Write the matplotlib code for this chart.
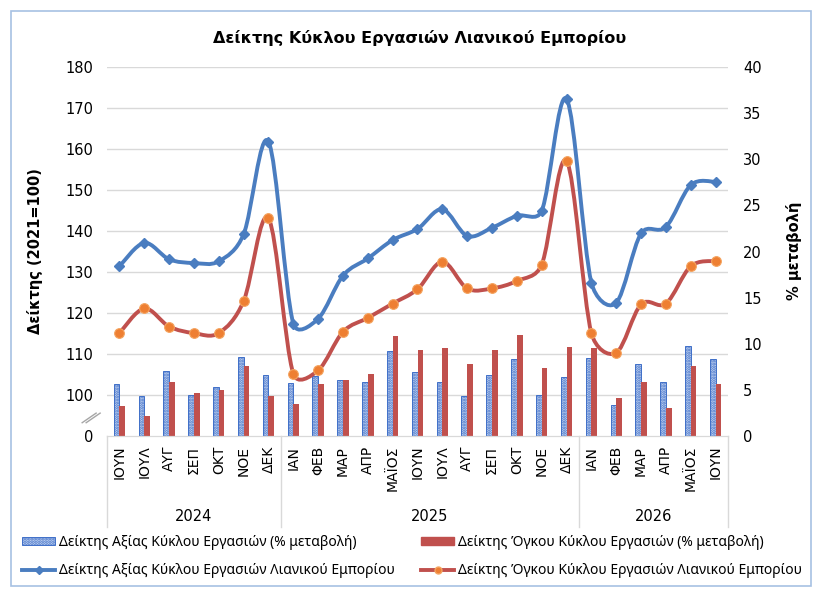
import numpy as np
import matplotlib.pyplot as plt
from matplotlib.path import Path
from matplotlib.patches import PathPatch, Rectangle, Patch
from matplotlib.lines import Line2D
import matplotlib.transforms as mtransforms

plt.rcParams['font.family'] = ['DejaVu Sans']
plt.rcParams['hatch.linewidth'] = 1.4

months = ['ΙΟΥΝ', 'ΙΟΥΛ', 'ΑΥΓ', 'ΣΕΠ', 'ΟΚΤ', 'ΝΟΕ', 'ΔΕΚ',
          'ΙΑΝ', 'ΦΕΒ', 'ΜΑΡ', 'ΑΠΡ', 'ΜΑΪΟΣ', 'ΙΟΥΝ', 'ΙΟΥΛ', 'ΑΥΓ', 'ΣΕΠ', 'ΟΚΤ', 'ΝΟΕ', 'ΔΕΚ',
          'ΙΑΝ', 'ΦΕΒ', 'ΜΑΡ', 'ΑΠΡ', 'ΜΑΪΟΣ', 'ΙΟΥΝ']
years = ['2024', '2025', '2026']
year_counts = [7, 12, 6]

# index values, left axis (2021=100)
value_index = [131.4, 137.1, 133.1, 132.2, 132.6, 139.2, 161.8, 117.4, 118.6, 129.1, 133.3, 137.8, 140.5,
               145.3, 138.8, 140.8, 143.7, 144.9, 172.2, 127.4, 122.5, 139.4, 141.0, 151.2, 152.0]
volume_index = [115.1, 121.1, 116.7, 115.1, 115.1, 122.9, 143.1, 105.2, 106.0, 115.4, 118.8, 122.3, 125.8,
                132.5, 126.0, 126.0, 127.8, 131.8, 157.1, 115.1, 110.3, 122.1, 122.3, 131.4, 132.7]
# % change, right axis
value_pct = [5.6, 4.3, 7.1, 4.4, 5.3, 8.6, 6.6, 5.7, 6.5, 6.1, 5.8, 9.2, 6.9,
             5.9, 4.3, 6.6, 8.3, 4.4, 6.4, 8.5, 3.4, 7.8, 5.9, 9.8, 8.3]
volume_pct = [3.3, 2.2, 5.8, 4.7, 5.0, 7.6, 4.3, 3.5, 5.6, 6.1, 6.7, 10.8, 9.3,
              9.5, 7.8, 9.3, 11.0, 7.4, 9.7, 9.5, 4.1, 5.8, 3.0, 7.6, 5.6]

left_ticks = [90, 100, 110, 120, 130, 140, 150, 160, 170, 180]
left_labels = ['0', '100', '110', '120', '130', '140', '150', '160', '170', '180']
right_ticks = [0, 5, 10, 15, 20, 25, 30, 35, 40]

BLUE = '#4A7DC0'
RED = '#C0504D'
ORANGE = '#EE7F32'
GRID = '#D9D9D9'
BAR_FACE = '#C9D8F2'
BAR_DOT = '#3F6FC8'


def smooth_path(xs, ys, sx, sy, k=0.5):
    # bezier through the points, tangents like catmull-rom but shortened on short segments
    pts = np.column_stack([np.asarray(xs, float) * sx, np.asarray(ys, float) * sy])
    n = len(pts)
    tan = []
    for i in range(n):
        a = pts[max(i - 1, 0)]
        b = pts[min(i + 1, n - 1)]
        tan.append((b - a) / 6.0)
    verts = [pts[0]]
    codes = [Path.MOVETO]
    for i in range(n - 1):
        seg = np.hypot(*(pts[i + 1] - pts[i]))
        t1, t2 = tan[i], tan[i + 1]
        f1 = min(1.0, k * seg / max(np.hypot(*t1), 1e-9))
        f2 = min(1.0, k * seg / max(np.hypot(*t2), 1e-9))
        verts += [pts[i] + t1 * f1, pts[i + 1] - t2 * f2, pts[i + 1]]
        codes += [Path.CURVE4] * 3
    verts = np.array(verts) / [sx, sy]
    return Path(verts, codes)


fig = plt.figure(figsize=(8.23, 6.05), dpi=100)
ax = fig.add_axes([107 / 823, 1 - 436 / 605, 621 / 823, 369 / 605])
ax2 = ax.twinx()

x = np.arange(len(months))

# bars on the % axis (drawn on right side)
ax.set_ylim(0, 40)
ax.set_xlim(-0.5, len(months) - 0.5)
for g in left_ticks[1:]:
    ax.axhline((g - 90) * 40 / 90, color=GRID, lw=1.0, zorder=0)
bw = 0.23
ax.bar(x - bw / 2, value_pct, bw, facecolor=BAR_FACE, edgecolor=BAR_DOT, hatch='......',
       linewidth=0.7, zorder=2)
ax.bar(x + bw / 2, volume_pct, bw, color=RED, linewidth=0, zorder=2)
ax.yaxis.tick_right()
ax.set_yticks(right_ticks)
ax.tick_params(axis='y', length=0, pad=11, labelsize=10.5)

# index lines (drawn on left side)
ax2.set_ylim(90, 180)
ax2.yaxis.tick_left()
ax2.set_yticks(left_ticks)
ax2.set_yticklabels(left_labels)
ax2.tick_params(axis='y', length=0, pad=10, labelsize=10.5)

px_x = 621 / len(months)
px_y = 369 / 90
ax2.add_patch(PathPatch(smooth_path(x, value_index, px_x, px_y), fill=False, edgecolor=BLUE, lw=2.8,
                        capstyle='round', joinstyle='round', zorder=3))
ax2.plot(x, value_index, linestyle='none', marker='D', ms=5, color=BLUE, zorder=4)
ax2.add_patch(PathPatch(smooth_path(x, volume_index, px_x, px_y), fill=False, edgecolor=RED, lw=2.8,
                        capstyle='round', joinstyle='round', zorder=3))
ax2.plot(x, volume_index, linestyle='none', marker='o', ms=7, markerfacecolor=ORANGE,
         markeredgecolor='#F4A460', markeredgewidth=0.8, zorder=4)

for a in (ax, ax2):
    for s in ('top', 'left', 'right'):
        a.spines[s].set_visible(False)
    a.spines['bottom'].set_color(GRID)

# category axis
ax.set_xticks(x)
ax.set_xticklabels(months, rotation=90, fontsize=10)
ax.tick_params(axis='x', length=0, pad=7)

trans = mtransforms.blended_transform_factory(ax.transData, ax.transAxes)
bounds = np.concatenate([[0], np.cumsum(year_counts)]) - 0.5
for b in bounds:
    ax.plot([b, b], [0, -0.247], transform=trans, color=GRID, lw=1.0, clip_on=False)
for i, yr in enumerate(years):
    ax.text((bounds[i] + bounds[i + 1]) / 2, -0.219, yr, transform=trans, ha='center', va='center',
            fontsize=10.5)

# axis break marks
for dx in (0, 4):
    ax.plot([-0.04 + dx / 621, -0.0175 + dx / 621], [0.036, 0.062], transform=ax.transAxes,
            color='#A6A6A6', lw=1.0, clip_on=False)

fig.text(420 / 823, 1 - 38 / 605, 'Δείκτης Κύκλου Εργασιών Λιανικού Εμπορίου', ha='center', va='center',
         fontsize=11.5, fontweight='bold')
fig.text(35 / 823, 1 - 251 / 605, 'Δείκτης (2021=100)', rotation=90, ha='center', va='center',
         fontsize=10.5, fontweight='bold')
fig.text(794 / 823, 1 - 251 / 605, '% μεταβολή', rotation=90, ha='center', va='center',
         fontsize=10.5, fontweight='bold')

handles = [
    Patch(facecolor=BAR_FACE, edgecolor=BAR_DOT, hatch='......', linewidth=0.7),
    Line2D([], [], color=BLUE, lw=2.8, marker='D', ms=4),
    Patch(facecolor=RED, edgecolor=RED),
    Line2D([], [], color=RED, lw=2.8, marker='o', ms=5, markerfacecolor=ORANGE, markeredgecolor='#F4A460'),
]
labels = [
    'Δείκτης Αξίας Κύκλου Εργασιών (% μεταβολή)',
    'Δείκτης Αξίας Κύκλου Εργασιών Λιανικού Εμπορίου',
    'Δείκτης Όγκου Κύκλου Εργασιών (% μεταβολή)',
    'Δείκτης Όγκου Κύκλου Εργασιών Λιανικού Εμπορίου',
]
fig.legend(handles, labels, ncol=2, loc='upper left', bbox_to_anchor=(22 / 823, 1 - 535 / 605),
           frameon=False, prop={'family': ['Noto Sans', 'DejaVu Sans'], 'size': 10},
           handlelength=2.4, handleheight=0.5, handletextpad=0.25,
           columnspacing=1.9, labelspacing=0.95, borderaxespad=0, borderpad=0)

fig.add_artist(Rectangle((11 / 823, 1 - 586 / 605), 800 / 823, 575 / 605, transform=fig.transFigure,
                         fill=False, edgecolor='#A7C1E3', lw=1.2))

fig.savefig('out.png', dpi=100)
